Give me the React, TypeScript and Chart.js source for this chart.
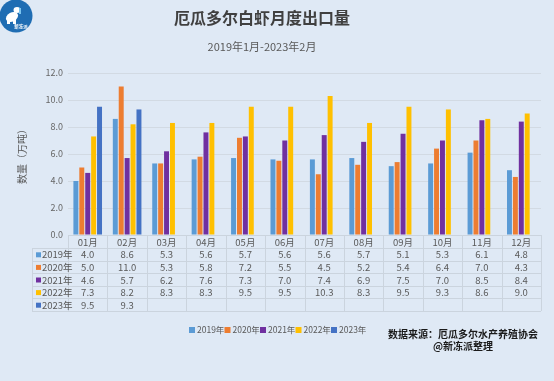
import React, { useEffect, useRef } from "react";
import { Chart, registerables } from "chart.js";

Chart.register(...registerables);

const months = ["01月", "02月", "03月", "04月", "05月", "06月", "07月", "08月", "09月", "10月", "11月", "12月"];
const seriesNames = ["2019年", "2020年", "2021年", "2022年", "2023年"];
const v2019 = [4.0, 8.6, 5.3, 5.6, 5.7, 5.6, 5.6, 5.7, 5.1, 5.3, 6.1, 4.8];
const v2020 = [5.0, 11.0, 5.3, 5.8, 7.2, 5.5, 4.5, 5.2, 5.4, 6.4, 7.0, 4.3];
const v2021 = [4.6, 5.7, 6.2, 7.6, 7.3, 7.0, 7.4, 6.9, 7.5, 7.0, 8.5, 8.4];
const v2022 = [7.3, 8.2, 8.3, 8.3, 9.5, 9.5, 10.3, 8.3, 9.5, 9.3, 8.6, 9.0];
const v2023 = [9.5, 9.3, null, null, null, null, null, null, null, null, null, null];
const colors = ["#5b9bd5", "#ed7d31", "#7030a0", "#ffc000", "#4472c4"];

const titleText = "厄瓜多尔白虾月度出口量";
const subtitleText = "2019年1月-2023年2月";
const yTitle = "数量（万吨）";
const sourceLine1 = "数据来源：厄瓜多尔水产养殖协会";
const sourceLine2 = "@新冻派整理";
const logoText = "新冻派";

const FONT = '"Noto Sans CJK SC", "Noto Sans", sans-serif';
const BG = "#dfe9f5";
const LINE = "#cbd4de";
const TEXT = "#595959";

const decorPlugin = {
  id: "decor",
  beforeDraw(chart: any) {
    const ctx = chart.ctx;
    ctx.save();
    ctx.fillStyle = BG;
    ctx.fillRect(0, 0, chart.width, chart.height);
    ctx.restore();
  },
  afterDraw(chart: any) {
    const ctx = chart.ctx;
    const area = chart.chartArea;
    const xs = chart.scales.x;
    const n = months.length;
    const cw = (area.right - area.left) / n;
    ctx.save();

    // logo
    ctx.fillStyle = "#1f6db3";
    ctx.beginPath();
    ctx.arc(16, 16, 16.5, 0, Math.PI * 2);
    ctx.fill();
    ctx.fillStyle = "#ffffff";
    ctx.beginPath();
    ctx.ellipse(12, 17, 6.5, 4.5, -0.5, 0, Math.PI * 2);
    ctx.fill();
    ctx.beginPath();
    ctx.ellipse(17, 10, 3.5, 3, 0, 0, Math.PI * 2);
    ctx.fill();
    ctx.fillRect(7, 19, 3, 5);
    ctx.fillRect(13, 19, 3, 5);
    ctx.fillStyle = "#7cc6f0";
    ctx.fillRect(19, 8, 2, 6);
    ctx.fillStyle = "#ffffff";
    ctx.font = `bold 4.5px ${FONT}`;
    ctx.textAlign = "center";
    ctx.textBaseline = "middle";
    ctx.fillText(logoText, 21, 26);

    // title
    ctx.fillStyle = "#404040";
    ctx.textAlign = "center";
    ctx.textBaseline = "middle";
    ctx.font = `bold 16px ${FONT}`;
    ctx.fillText(titleText, 262, 18);
    ctx.fillStyle = TEXT;
    ctx.font = `11px ${FONT}`;
    ctx.fillText(subtitleText, 262, 47);

    // y title
    ctx.save();
    ctx.translate(22, (area.top + area.bottom) / 2);
    ctx.rotate(-Math.PI / 2);
    ctx.font = `10px ${FONT}`;
    ctx.fillStyle = TEXT;
    ctx.fillText(yTitle, 0, 0);
    ctx.restore();

    // table
    const top = area.bottom;
    const headerH = 13;
    const rowH = 12.6;
    const rows = chart.data.datasets.length;
    const leftX = 32;
    const tableBottom = top + headerH + rows * rowH;
    ctx.strokeStyle = LINE;
    ctx.lineWidth = 1;
    const hline = (y: number, x0: number, x1: number) => {
      ctx.beginPath();
      ctx.moveTo(x0, Math.round(y) + 0.5);
      ctx.lineTo(x1, Math.round(y) + 0.5);
      ctx.stroke();
    };
    const vline = (x: number, y0: number, y1: number) => {
      ctx.beginPath();
      ctx.moveTo(Math.round(x) + 0.5, y0);
      ctx.lineTo(Math.round(x) + 0.5, y1);
      ctx.stroke();
    };
    hline(top, area.left, area.right);
    for (let r = 0; r <= rows; r++) {
      hline(top + headerH + r * rowH, leftX, area.right);
    }
    for (let i = 0; i <= n; i++) {
      vline(area.left + i * cw, top, tableBottom);
    }
    vline(leftX, top + headerH, tableBottom);

    ctx.textAlign = "center";
    ctx.textBaseline = "middle";
    ctx.fillStyle = TEXT;
    ctx.font = `9.5px ${FONT}`;
    for (let i = 0; i < n; i++) {
      const cx = xs.getPixelForValue(i);
      ctx.fillText(String(chart.data.labels[i]), cx, top + headerH / 2 + 0.5);
    }
    chart.data.datasets.forEach((ds: any, r: number) => {
      const cy = top + headerH + r * rowH + rowH / 2 + 0.5;
      ctx.fillStyle = ds.backgroundColor;
      ctx.fillRect(leftX + 4, cy - 2.5, 5, 5);
      ctx.fillStyle = TEXT;
      ctx.textAlign = "left";
      ctx.font = `9.5px ${FONT}`;
      ctx.fillText(ds.label, leftX + 10, cy);
      ctx.textAlign = "center";
      ds.data.forEach((v: number | null, i: number) => {
        if (v === null || v === undefined) return;
        ctx.fillText(v.toFixed(1), xs.getPixelForValue(i), cy);
      });
    });

    // legend
    ctx.font = `8.5px ${FONT}`;
    ctx.textBaseline = "middle";
    ctx.textAlign = "left";
    const ly = 330;
    let lx = 189;
    chart.data.datasets.forEach((ds: any) => {
      ctx.fillStyle = ds.backgroundColor;
      ctx.fillRect(lx, ly - 3, 6, 6);
      ctx.fillStyle = TEXT;
      ctx.fillText(ds.label, lx + 8, ly);
      lx += 35.5;
    });

    // source
    ctx.fillStyle = "#1a1a1a";
    ctx.textAlign = "center";
    ctx.font = `bold 10px ${FONT}`;
    ctx.fillText(sourceLine1, 463, 334);
    ctx.fillText(sourceLine2, 463, 346);

    ctx.restore();
  },
};

export default function App() {
  const ref = useRef<HTMLCanvasElement>(null);
  useEffect(() => {
    if (!ref.current) return;
    const data = [v2019, v2020, v2021, v2022, v2023];
    const chart = new Chart(ref.current, {
      type: "bar",
      data: {
        labels: months,
        datasets: seriesNames.map((name, i) => ({
          label: name,
          data: data[i],
          backgroundColor: colors[i],
          borderWidth: 0,
          categoryPercentage: 0.75,
          barPercentage: 0.84,
        })),
      },
      options: {
        responsive: false,
        animation: false,
        layout: { padding: { left: 0, right: 13, top: 73, bottom: 146 } },
        plugins: {
          legend: { display: false },
          title: { display: false },
          tooltip: { enabled: false },
        },
        scales: {
          x: { display: false },
          y: {
            min: 0,
            max: 12,
            ticks: {
              stepSize: 2,
              padding: 5,
              color: "#666666",
              font: { family: FONT, size: 9 },
              callback: (v: any) => Number(v).toFixed(1),
            },
            grid: { color: "#d2dae3", drawTicks: false, lineWidth: 1 },
            border: { display: false },
            afterFit: (scale: any) => {
              scale.width = 68;
            },
          },
        },
      },
      plugins: [decorPlugin],
    });
    return () => chart.destroy();
  }, []);
  return (
    <div style={{ position: "absolute", left: 0, top: 0, width: 554, height: 381 }}>
      <canvas ref={ref} width={554} height={381} style={{ display: "block", width: 554, height: 381 }} />
    </div>
  );
}
